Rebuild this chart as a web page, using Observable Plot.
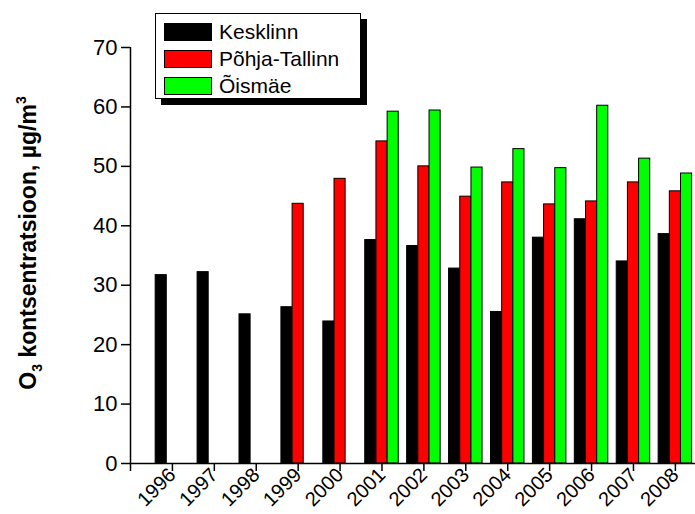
<!DOCTYPE html>
<html>
<head>
<meta charset="utf-8">
<script src="https://cdn.jsdelivr.net/npm/d3@7"></script>
<script src="https://cdn.jsdelivr.net/npm/@observablehq/plot@0.6"></script>
<style>
  html, body { margin: 0; padding: 0; background: #fff; }
  #wrap { position: relative; width: 695px; height: 514px; overflow: hidden; font-family: "Liberation Sans", Arial, sans-serif; }
  #legend { position: absolute; left: 155px; top: 13px; width: 206px; height: 86px; background: #fff;
            border: 1px solid #000; box-shadow: 6px 6px 0 #000; box-sizing: border-box; padding-top: 4px; }
  .row { display: flex; align-items: center; height: 27px; font-size: 21px; color: #000; }
  .sw { width: 48px; height: 18px; margin-left: 8px; margin-right: 7px; border: 1px solid #000; box-sizing: border-box; }
</style>
</head>
<body>
<div id="wrap"><div id="chart"></div><div id="legend"></div></div>
<script>
const years = [1996, 1997, 1998, 1999, 2000, 2001, 2002, 2003, 2004, 2005, 2006, 2007, 2008];
const seriesNames = ["Kesklinn", "Põhja-Tallinn", "Õismäe"];
const seriesColors = ["#000000", "#ff0000", "#00ff00"];
const kesklinn = [31.7, 32.2, 25.1, 26.3, 23.9, 37.6, 36.6, 32.8, 25.5, 38.0, 41.1, 34.0, 38.6];
const pohjaTallinn = [null, null, null, 43.7, 47.9, 54.2, 50.0, 44.9, 47.3, 43.6, 44.1, 47.3, 45.8];
const oismae = [null, null, null, null, null, 59.2, 59.4, 49.8, 52.9, 49.7, 60.2, 51.3, 48.8];
const yTicks = [0, 10, 20, 30, 40, 50, 60, 70];
const xTicks = [1995, 1996, 1997, 1998, 1999, 2000, 2001, 2002, 2003, 2004, 2005, 2006, 2007, 2008];
const xTickLabels = ["", "1996", "1997", "1998", "1999", "2000", "2001", "2002", "2003", "2004", "2005", "2006", "2007", "2008"];

const seriesValues = [kesklinn, pohjaTallinn, oismae];
const groupOffset = [-0.267, 0, 0.267];
const barW = 0.265;

const rows = [];
seriesNames.forEach((s, si) => {
  years.forEach((y, yi) => {
    const v = seriesValues[si][yi];
    if (v != null) rows.push({year: y, series: s, value: v, si});
  });
});

const font = '"Liberation Sans", Arial, sans-serif';

const chart = Plot.plot({
  width: 695,
  height: 514,
  marginLeft: 130,
  marginRight: 0,
  marginTop: 47,
  marginBottom: 51,
  style: {fontFamily: font, background: "#fff", color: "#000", overflow: "visible"},
  x: {domain: [1995, 2008.48], label: null},
  y: {domain: [0, 70], label: null},
  color: {domain: seriesNames, range: seriesColors},
  marks: [
    Plot.rectY(rows, {
      x1: d => d.year + groupOffset[d.si] - barW / 2,
      x2: d => d.year + groupOffset[d.si] + barW / 2,
      y1: 0,
      y2: "value",
      fill: "series",
      stroke: "#000",
      strokeWidth: 1
    }),
    Plot.axisY({ticks: yTicks, tickSize: 9, tickPadding: 4, fontSize: 22, tickFormat: d => String(d), strokeWidth: 1.5}),
    Plot.ruleX([1995], {y1: 0, y2: 70, stroke: "#000", strokeWidth: 1.5}),
    Plot.axisX({ticks: xTicks, tickSize: 8, tickPadding: 0, fontSize: 20, tickRotate: -45,
                tickFormat: d => xTickLabels[xTicks.indexOf(d)], strokeWidth: 1.5}),
    Plot.ruleY([0], {stroke: "#000", strokeWidth: 1.5})
  ]
});

document.getElementById("chart").appendChild(chart);

// y-axis title with subscript/superscript
const svg = d3.select(chart);
const t = svg.append("text")
  .attr("transform", "translate(36,243) rotate(-90)")
  .attr("text-anchor", "middle")
  .attr("font-family", font)
  .attr("font-weight", "bold")
  .attr("font-size", 23)
  .attr("fill", "#000");
t.append("tspan").text("O");
t.append("tspan").attr("font-size", 14).attr("dy", 6).text("3");
t.append("tspan").attr("dy", -6).text(" kontsentratsioon, µg/m");
t.append("tspan").attr("font-size", 14).attr("dy", -10).text("3");

// legend
const lg = d3.select("#legend");
seriesNames.forEach((s, i) => {
  const r = lg.append("div").attr("class", "row");
  r.append("div").attr("class", "sw").style("background", seriesColors[i]);
  r.append("span").text(s);
});
</script>
</body>
</html>
